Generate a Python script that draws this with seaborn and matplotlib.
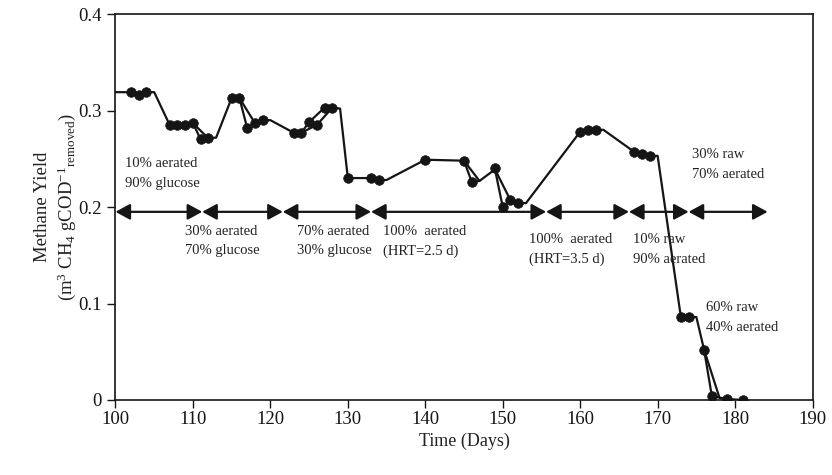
import matplotlib
matplotlib.use("Agg")
import matplotlib.pyplot as plt
import seaborn as sns
import pandas as pd
import numpy as np

# ---------------- data ----------------
# continuous (unmarked) line
line_days = [100, 102, 103, 104, 105, 107, 108, 109, 110, 112, 113, 115, 116, 118, 119, 120,
             123, 124, 126, 128, 129, 130, 133, 134, 135, 140, 145, 147, 149, 151, 152, 153,
             160, 161, 162, 163, 167, 168, 169, 170, 173, 174, 175, 176, 178, 179, 181]
line_yield = [0.319, 0.319, 0.316, 0.319, 0.319, 0.285, 0.285, 0.285, 0.287, 0.271, 0.272, 0.313,
              0.313, 0.287, 0.290, 0.290, 0.277, 0.277, 0.285, 0.303, 0.302, 0.230, 0.230, 0.228,
              0.228, 0.249, 0.248, 0.227, 0.239, 0.207, 0.204, 0.204, 0.278, 0.280, 0.280, 0.280,
              0.257, 0.255, 0.253, 0.253, 0.086, 0.086, 0.086, 0.052, 0.002, 0.001, 0.000]

# measured points (markers)
meas_days = [102, 103, 104, 107, 108, 109, 110, 111, 112, 115, 116, 117, 118, 119, 123, 124, 125,
             126, 127, 128, 130, 133, 134, 140, 145, 146, 149, 150, 151, 152, 160, 161, 162, 167,
             168, 169, 173, 174, 176, 177, 179, 181]
meas_yield = [0.319, 0.316, 0.319, 0.285, 0.285, 0.285, 0.287, 0.270, 0.271, 0.313, 0.313, 0.282,
              0.287, 0.290, 0.277, 0.277, 0.288, 0.285, 0.303, 0.303, 0.230, 0.230, 0.228, 0.249,
              0.248, 0.226, 0.240, 0.200, 0.207, 0.204, 0.278, 0.280, 0.280, 0.257, 0.255, 0.253,
              0.086, 0.086, 0.052, 0.004, 0.001, 0.000]

# short side paths through the outlying measurements
spur_seg = [1, 1, 1, 2, 2, 2, 3, 3, 3, 4, 4, 4, 5, 5, 5, 6, 6, 6]
spur_days = [110, 111, 112, 116, 117, 118, 124, 125, 127, 145, 146, 147, 149, 150, 151, 176, 177, 179]
spur_yield = [0.287, 0.270, 0.271, 0.313, 0.282, 0.287, 0.277, 0.288, 0.303,
              0.248, 0.226, 0.227, 0.239, 0.200, 0.207, 0.052, 0.004, 0.001]

# operating phases (arrows)
phase_bounds = [100, 111.2, 121.6, 133, 155.6, 166.3, 174, 184.2]
arrow_level = 0.195

# phase labels: (day, y of first line, line1, line2)
label_day = [101.2, 109.0, 123.4, 134.5, 153.4, 166.8, 176.3, 174.5]
label_y = [0.245, 0.175, 0.175, 0.175, 0.166, 0.166, 0.096, 0.254]
label_l1 = ["10% aerated", "30% aerated", "70% aerated", "100%  aerated", "100%  aerated",
            "10% raw", "60% raw", "30% raw"]
label_l2 = ["90% glucose", "70% glucose", "30% glucose", "(HRT=2.5 d)", "(HRT=3.5 d)",
            "90% aerated", "40% aerated", "70% aerated"]

x_ticks = [100, 110, 120, 130, 140, 150, 160, 170, 180, 190]
y_ticks = [0, 0.1, 0.2, 0.3, 0.4]
y_tick_labels = ["0", "0.1", "0.2", "0.3", "0.4"]

# ---------------- style ----------------
sns.set_theme(style="white")
plt.rcParams["font.family"] = ["Liberation Serif", "DejaVu Serif"]
plt.rcParams["mathtext.fontset"] = "custom"
plt.rcParams["mathtext.rm"] = "Liberation Serif"
plt.rcParams["mathtext.it"] = "Liberation Serif:italic"
plt.rcParams["mathtext.bf"] = "Liberation Serif:bold"

ink = "#151515"

fig = plt.figure(figsize=(8.32, 4.75), dpi=100)
ax = fig.add_axes([0.1388, 0.1579, 0.8378, 0.8126])

df_line = pd.DataFrame({"day": line_days, "y": line_yield})
df_meas = pd.DataFrame({"day": meas_days, "y": meas_yield})
df_spur = pd.DataFrame({"seg": spur_seg, "day": spur_days, "y": spur_yield})

sns.lineplot(data=df_line, x="day", y="y", ax=ax, color=ink, lw=1.6, estimator=None)
sns.lineplot(data=df_spur, x="day", y="y", units="seg", ax=ax, color=ink, lw=1.6,
             estimator=None)
sns.scatterplot(data=df_meas, x="day", y="y", ax=ax, color=ink, s=48, edgecolor=ink,
                linewidth=0.5, zorder=5)

# phase arrows
for a, b in zip(phase_bounds[:-1], phase_bounds[1:]):
    ax.annotate("", xy=(b, arrow_level), xytext=(a, arrow_level),
                arrowprops=dict(arrowstyle="<|-|>,head_length=0.55,head_width=0.3",
                                color=ink, lw=1.6, shrinkA=0, shrinkB=0,
                                mutation_scale=16))

for d, yv, l1, l2 in zip(label_day, label_y, label_l1, label_l2):
    ax.text(d, yv, l1, fontsize=10.5, color="#222222", va="center", ha="left")
    ax.text(d, yv - 0.0205, l2, fontsize=10.5, color="#222222", va="center", ha="left")

ax.set_xlim(100, 190)
ax.set_ylim(0, 0.4)
ax.set_xticks(x_ticks)
ax.set_yticks(y_ticks)
ax.set_yticklabels(y_tick_labels)
ax.tick_params(axis="both", direction="out", length=6, width=1.0, colors=ink,
               labelsize=13.5, bottom=True, left=True)
ax.tick_params(axis="x", pad=2)
ax.tick_params(axis="y", pad=4)
for s in ax.spines.values():
    s.set_color(ink)
    s.set_linewidth(1.2)

ax.set_xlabel("Time (Days)", fontsize=13, color="#222222", labelpad=3)
ax.set_ylabel("Methane Yield\n(m$^{3}$ CH$_{4}$ gCOD$^{-1}$$_{\\mathrm{removed}}$)",
              fontsize=13.5, color="#222222", labelpad=0, linespacing=1.3)

fig.savefig("out.png", dpi=100)
